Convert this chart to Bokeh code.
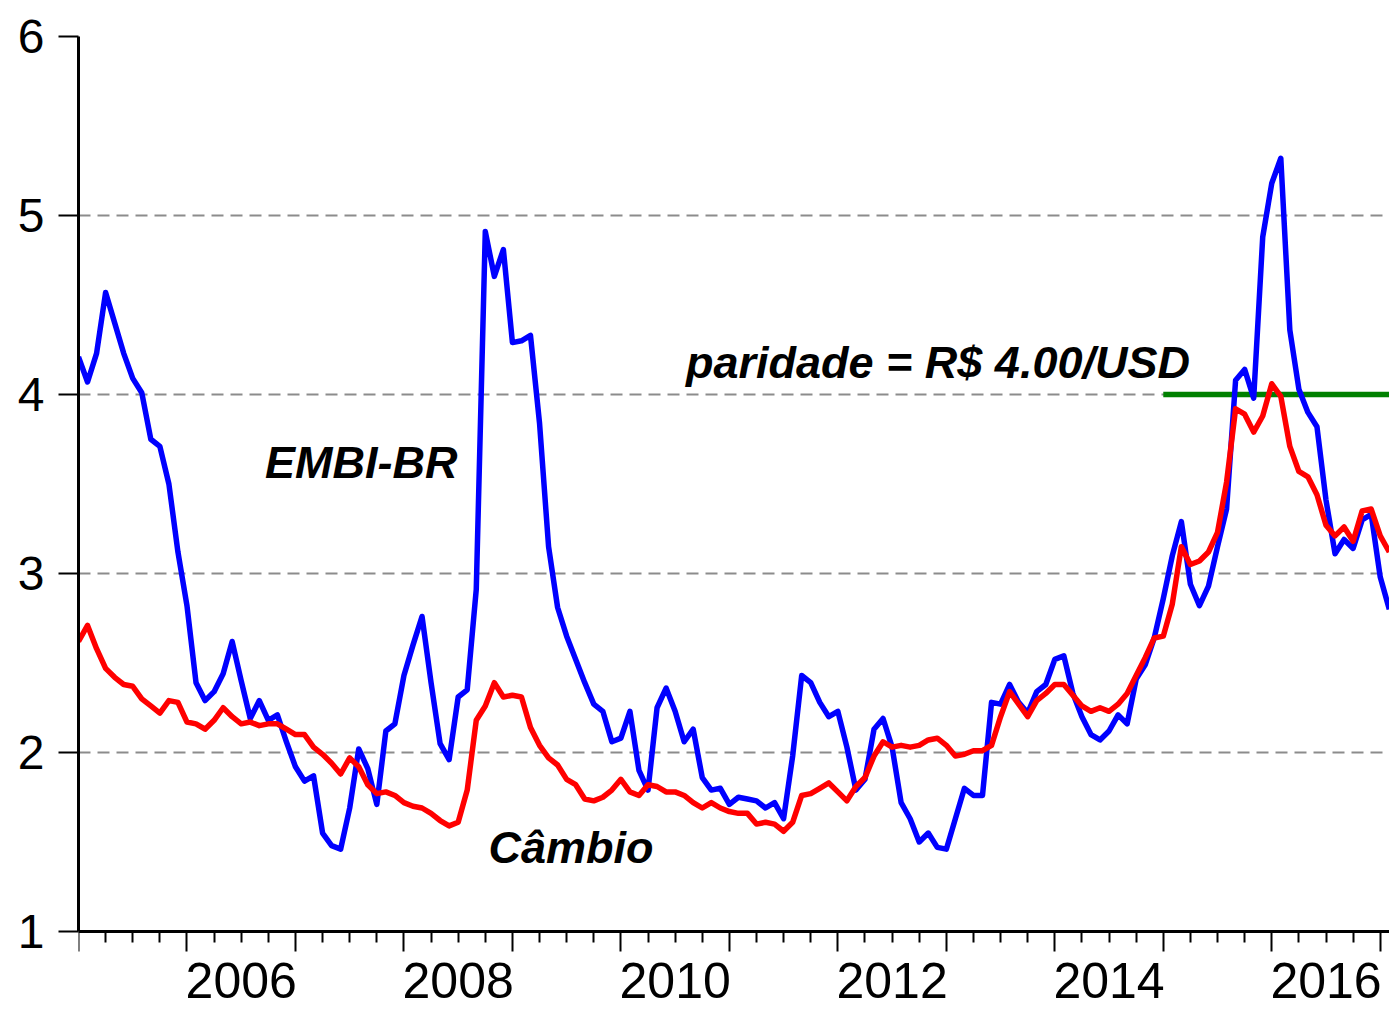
from bokeh.plotting import figure
from bokeh.models import FixedTicker, Label, Range1d, LinearAxis
from bokeh.embed import file_html
from bokeh.resources import INLINE
import pandas as pd

# Monthly observations, Jan 2005 .. Feb 2017
months = pd.date_range("2005-01-01", periods=146, freq="MS")

embi = [4.21, 4.07, 4.23, 4.57, 4.40, 4.23, 4.09, 4.01, 3.75, 3.71, 3.50, 3.12,
        2.82, 2.39, 2.29, 2.34, 2.44, 2.62, 2.40, 2.19, 2.29, 2.18, 2.21, 2.06,
        1.92, 1.84, 1.87, 1.55, 1.48, 1.46, 1.69, 2.02, 1.91, 1.71, 2.12, 2.16,
        2.43, 2.60, 2.76, 2.39, 2.05, 1.96, 2.31, 2.35, 2.91, 4.91, 4.66, 4.81,
        4.29, 4.30, 4.33, 3.84, 3.15, 2.81, 2.65, 2.52, 2.39, 2.27, 2.23, 2.06,
        2.08, 2.23, 1.90, 1.79, 2.25, 2.36, 2.23, 2.06, 2.13, 1.86, 1.79, 1.80,
        1.71, 1.75, 1.74, 1.73, 1.69, 1.72, 1.63, 1.98, 2.43, 2.39, 2.28, 2.20,
        2.23, 2.03, 1.79, 1.85, 2.13, 2.19, 2.03, 1.72, 1.63, 1.50, 1.55, 1.47,
        1.46, 1.63, 1.80, 1.76, 1.76, 2.28, 2.27, 2.38, 2.28, 2.22, 2.34, 2.38,
        2.52, 2.54, 2.33, 2.20, 2.10, 2.07, 2.12, 2.21, 2.16, 2.41, 2.49, 2.64,
        2.86, 3.10, 3.29, 2.94, 2.82, 2.93, 3.15, 3.36, 4.08, 4.14, 3.98, 4.88,
        5.18, 5.32, 4.36, 4.03, 3.90, 3.82, 3.41, 3.11, 3.19, 3.14, 3.30, 3.33,
        2.98, 2.80]

cambio = [2.62, 2.71, 2.58, 2.47, 2.42, 2.38, 2.37, 2.30, 2.26, 2.22, 2.29, 2.28,
          2.17, 2.16, 2.13, 2.18, 2.25, 2.20, 2.16, 2.17, 2.15, 2.16, 2.16, 2.13,
          2.10, 2.10, 2.03, 1.99, 1.94, 1.88, 1.97, 1.92, 1.82, 1.77, 1.78, 1.76,
          1.72, 1.70, 1.69, 1.66, 1.62, 1.59, 1.61, 1.79, 2.18, 2.26, 2.39, 2.31,
          2.32, 2.31, 2.14, 2.04, 1.97, 1.93, 1.85, 1.82, 1.74, 1.73, 1.75, 1.79,
          1.85, 1.78, 1.76, 1.82, 1.81, 1.78, 1.78, 1.76, 1.72, 1.69, 1.72, 1.69,
          1.67, 1.66, 1.66, 1.60, 1.61, 1.60, 1.56, 1.61, 1.76, 1.77, 1.80, 1.83,
          1.78, 1.73, 1.81, 1.86, 1.98, 2.06, 2.03, 2.04, 2.03, 2.04, 2.07, 2.08,
          2.04, 1.98, 1.99, 2.01, 2.01, 2.04, 2.20, 2.34, 2.27, 2.20, 2.29, 2.33,
          2.38, 2.38, 2.32, 2.26, 2.23, 2.25, 2.23, 2.27, 2.33, 2.43, 2.53, 2.64,
          2.65, 2.83, 3.15, 3.05, 3.07, 3.12, 3.23, 3.51, 3.92, 3.89, 3.79, 3.88,
          4.06, 3.99, 3.71, 3.57, 3.54, 3.44, 3.27, 3.21, 3.26, 3.18, 3.35, 3.36,
          3.21, 3.12]

parity_years = [2015.0, 2017.1]
parity_values = [4.0, 4.0]

year_ticks = list(range(2005, 2018))
year_labels = ["2006", "2008", "2010", "2012", "2014", "2016"]
y_ticks = [1, 2, 3, 4, 5, 6]
grid_values = [2, 3, 4, 5]

x = [d.year + (d.month - 1) / 12.0 for d in months]

FONT = "Liberation Sans"

# frame: top at 36px, value 1 at 931px (179 px per unit); frame runs to the bottom edge
y_low = 1 - 78 / 179.0

p = figure(width=1389, height=1009, output_backend="svg", toolbar_location=None,
           x_range=Range1d(2005.0, x[-1] + 0.002), y_range=Range1d(y_low, 6),
           min_border_left=78, min_border_right=0, min_border_top=36,
           min_border_bottom=0)
p.outline_line_color = None
p.background_fill_color = "white"
p.border_fill_color = "white"

p.xgrid.visible = False
p.ygrid.ticker = FixedTicker(ticks=grid_values)
p.ygrid.grid_line_color = "#8c8c8c"
p.ygrid.grid_line_dash = "12 7"
p.ygrid.grid_line_width = 2

# y axis
p.yaxis.ticker = FixedTicker(ticks=y_ticks)
p.yaxis.bounds = (1, 6)
p.yaxis.axis_line_width = 3
p.yaxis.axis_line_color = "black"
p.yaxis.major_tick_out = 20
p.yaxis.major_tick_in = 0
p.yaxis.minor_tick_out = 0
p.yaxis.minor_tick_in = 0
p.yaxis.major_tick_line_width = 2
p.yaxis.major_label_text_font = FONT
p.yaxis.major_label_text_font_size = "48px"
p.yaxis.major_label_text_color = "black"
p.yaxis.major_label_standoff = 14

# x axis at value 1: year ticks (long)
p.xaxis.fixed_location = 1
p.xaxis.ticker = FixedTicker(ticks=[], minor_ticks=year_ticks)
p.xaxis.axis_line_width = 3
p.xaxis.axis_line_color = "black"
p.xaxis.major_tick_out = 0
p.xaxis.major_tick_in = 0
p.xaxis.minor_tick_out = 20
p.xaxis.minor_tick_in = 0
p.xaxis.minor_tick_line_width = 2
p.xaxis.minor_tick_line_color = "black"

# second x axis at value 1: quarter ticks (short) + year labels centred in the year
quarters = [y + q / 4.0 for y in range(2005, 2017) for q in range(1, 4)]
label_pos = [int(s) + 0.5 for s in year_labels]
ax2 = LinearAxis(fixed_location=1,
                 ticker=FixedTicker(ticks=label_pos, minor_ticks=quarters),
                 major_label_overrides={pos: s for pos, s in zip(label_pos, year_labels)},
                 axis_line_color=None,
                 major_tick_out=0, major_tick_in=0,
                 minor_tick_out=11, minor_tick_in=0,
                 minor_tick_line_width=2, minor_tick_line_color="black",
                 major_label_text_font=FONT, major_label_text_font_size="50px",
                 major_label_text_color="black", major_label_standoff=20)
p.add_layout(ax2, "below")

p.line(parity_years, parity_values, line_color="#008000", line_width=5.5)
p.line(x, embi, line_color="#0000ff", line_width=5.5, line_join="round")
p.line(x, cambio, line_color="#ff0000", line_width=5.5, line_join="round")

annotations = [("EMBI-BR", 2006.72, 3.62), ("Câmbio", 2008.78, 1.47),
               ("paridade = R$ 4.00/USD", 2010.60, 4.18)]
for txt, ax, ay in annotations:
    p.add_layout(Label(x=ax, y=ay, text=txt, text_font=FONT, text_font_size="45px",
                       text_font_style="bold italic", text_align="left",
                       text_baseline="alphabetic", text_color="black"))

open("out.html", "w").write(file_html(p, INLINE))
